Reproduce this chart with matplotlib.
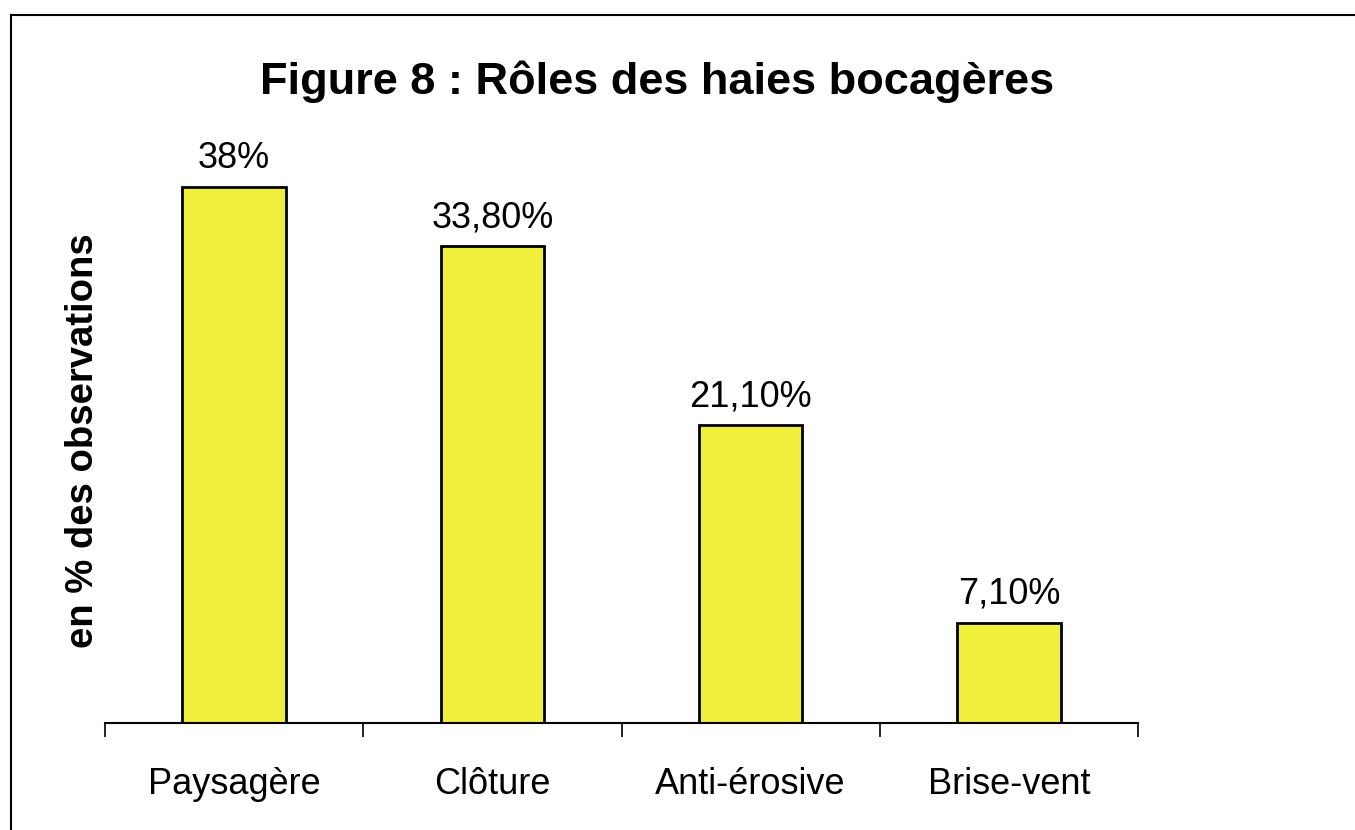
import numpy as np
import matplotlib
matplotlib.use('Agg')
import matplotlib.pyplot as plt
from matplotlib.lines import Line2D

# data
categories = ['Paysagère', 'Clôture', 'Anti-érosive', 'Brise-vent']
values = [38.0, 33.8, 21.1, 7.1]
value_labels = ['38%', '33,80%', '21,10%', '7,10%']

plt.rcParams['font.family'] = ['Liberation Sans', 'DejaVu Sans']

fig = plt.figure(figsize=(13.55, 8.3), dpi=100)
ax = fig.add_axes([105 / 1355, 107 / 830, 1033 / 1355, 564 / 830])

x = np.arange(len(categories))
bars = ax.bar(x, values, width=0.4, color='#f0ef3c', edgecolor='black', linewidth=2, zorder=2)

# value labels above bars
for xi, v, lab in zip(x, values, value_labels):
    ax.annotate(lab, (xi, v), xytext=(0, 8), textcoords='offset points',
                ha='center', va='bottom', fontsize=26)

ax.set_xlim(-0.5, len(categories) - 0.5)
ax.set_ylim(0, 40)

# category labels in the middle, tick marks on the boundaries
ax.set_xticks(x)
ax.set_xticklabels(categories, fontsize=26)
ax.tick_params(axis='x', which='major', length=0, pad=32)
ax.set_xticks(np.arange(len(categories) + 1) - 0.5, minor=True)
ax.tick_params(axis='x', which='minor', length=10, width=1.2, direction='out', color='black')

ax.set_yticks([])
for s in ['top', 'right', 'left']:
    ax.spines[s].set_visible(False)
ax.spines['bottom'].set_linewidth(1.5)

ax.set_ylabel('en % des observations', fontsize=27.5, fontweight='bold', va='center')
ax.yaxis.set_label_coords((83 - 105) / 1033, 0.5)

fig.text(657 / 1355, 1 - 82 / 830, 'Figure 8 : Rôles des haies bocagères',
         ha='center', va='center', fontsize=32.5, fontweight='bold')

# outer frame (top and left edges only visible in the picture)
fig.add_artist(Line2D([10.5 / 1355, 10.5 / 1355], [0, 1 - 15.5 / 830], color='black', lw=1.5,
                      transform=fig.transFigure))
fig.add_artist(Line2D([10.5 / 1355, 1], [1 - 15.5 / 830, 1 - 15.5 / 830], color='black', lw=1.5,
                      transform=fig.transFigure))

fig.savefig('out.png', dpi=100)
